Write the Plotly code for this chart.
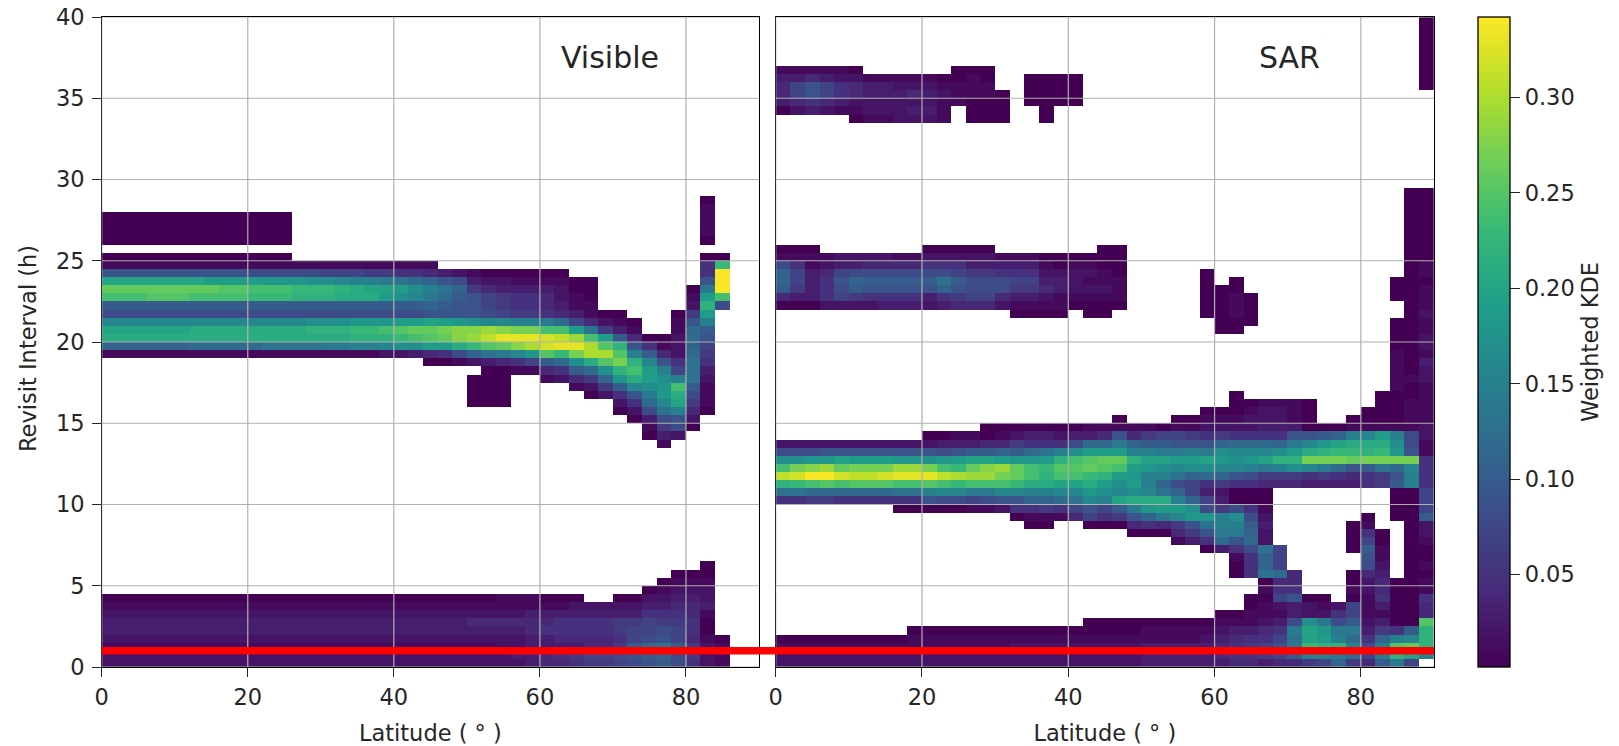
import plotly.graph_objects as go

# Cell values per latitude column (2 deg wide), read bottom-up in 0.5 h rows.
# Each entry: (first_row, codes). Code: 0 = ~0.002, 1-9 = 0.01-0.09, a = 0.10, b = 0.11 ... y = 0.34
LEVEL_CODES = "0123456789abcdefghijklmnopqrstuvwxy"
LATITUDE_CENTRES = [1, 3, 5, 7, 9, 11, 13, 15, 17, 19, 21, 23, 25, 27, 29, 31, 33, 35, 37, 39, 41, 43, 45,
                    47, 49, 51, 53, 55, 57, 59, 61, 63, 65, 67, 69, 71, 73, 75, 77, 79, 81, 83, 85, 87, 89]
X_TICKS = [0, 20, 40, 60, 80]
Y_TICKS = [0, 5, 10, 15, 20, 25, 30, 35, 40]
CB_TICKS = [0.05, 0.10, 0.15, 0.20, 0.25, 0.30]
REFERENCE_LINE_H = 1

visible_columns = [
    [(0, "221233210"), (38, "1blkg8aoqk91"), (50, "0"), (52, "0000")],
    [(0, "221233210"), (38, "1blkg8aoqk91"), (50, "0"), (52, "0000")],
    [(0, "221233210"), (38, "1blkg8aoqk91"), (50, "0"), (52, "0000")],
    [(0, "221233210"), (38, "1blkg8apqk91"), (50, "0"), (52, "0000")],
    [(0, "221233210"), (38, "1blkg8apqk91"), (50, "0"), (52, "0000")],
    [(0, "221233210"), (38, "1blkg8apqk91"), (50, "0"), (52, "0000")],
    [(0, "221233210"), (38, "1cllg8aoqk91"), (50, "0"), (52, "0000")],
    [(0, "221233210"), (38, "1cllg8aoqj91"), (50, "0"), (52, "0000")],
    [(0, "221233210"), (38, "1cllg8aopj91"), (50, "0"), (52, "0000")],
    [(0, "221233210"), (38, "1cllg8aopj91"), (50, "0"), (52, "0000")],
    [(0, "221233210"), (38, "1cllg8anoj81"), (50, "0"), (52, "0000")],
    [(0, "221233210"), (38, "1dllg8anoi81"), (50, "0"), (52, "0000")],
    [(0, "221233210"), (38, "1dllg8anoi81"), (50, "0"), (52, "0000")],
    [(0, "221233210"), (38, "1dllg8amni81")],
    [(0, "221233210"), (38, "1dlmh8amnh81")],
    [(0, "221233210"), (38, "1elmh8amnh71")],
    [(0, "221233210"), (38, "1elmh8almg71")],
    [(0, "221233210"), (38, "1fmni8allf71")],
    [(0, "221233210"), (38, "1fmni8alkf61")],
    [(0, "221233210"), (38, "2gmoi8ajke61")],
    [(0, "221233210"), (38, "2hnpj8ahjd51")],
    [(0, "221233210"), (38, "3hoqj8aghc51")],
    [(0, "221233210"), (37, "04jpqk9befb41")],
    [(0, "221233210"), (37, "05jqrj9acd93")],
    [(0, "221233210"), (37, "18lssi99ab82")],
    [(0, "221234210"), (32, "0000"), (37, "2bntsh999631")],
    [(0, "221234210"), (32, "00000"), (37, "3dpvtg877420")],
    [(0, "222234211"), (32, "00000"), (37, "4eqxsg766320")],
    [(0, "232234211"), (36, "15gsxrf655310")],
    [(0, "333344311"), (36, "17iuxrf655310")],
    [(0, "443354310"), (35, "14apwwoe544310")],
    [(0, "453455310"), (35, "25cnxvoc432210")],
    [(0, "563455320"), (34, "14ahrxtj731100")],
    [(0, "67445532"), (33, "026cluuod411000")],
    [(0, "67445532"), (33, "26bhpupj620")],
    [(0, "786566320"), (31, "025aimrpma310")],
    [(0, "89a776320"), (30, "0259glomf9410")],
    [(0, "9ac8775320"), (28, "0138cehjjga50")],
    [(0, "abd98653210"), (27, "1368dgiihf9410")],
    [(0, "88a776543210"), (28, "289fklof75222110")],
    [(0, "566455443210"), (29, "02468adddcbcc96210")],
    [(0, "2221001322100"), (31, "0111235679afjmje9550"), (52, "011110")],
    [(0, "1110"), (44, "8oyyyn0")],
    [],
    [],
]

sar_columns = [
    [(0, "2210"), (20, "5dmvoh82"), (44, "04abb810"), (68, "034431")],
    [(0, "2210"), (20, "5dnwrh82"), (44, "03677510"), (68, "247731")],
    [(0, "2210"), (20, "6coysi82"), (44, "03333110"), (68, "359941")],
    [(0, "2210"), (20, "6cpyti92"), (44, "2555421"), (68, "247731")],
    [(0, "2210"), (20, "5cowqk92"), (44, "2789732"), (68, "135521")],
    [(0, "2210"), (20, "5cpvrj92"), (44, "26ab832"), (67, "0124420")],
    [(0, "2210"), (20, "5cpvrj92"), (44, "259a842"), (67, "122331")],
    [(0, "2210"), (20, "5cpwrj92"), (44, "359a842"), (67, "122331")],
    [(0, "2210"), (19, "05doxti92"), (44, "359a841"), (67, "222321")],
    [(0, "22110"), (19, "05doxti92"), (44, "359a841"), (67, "232421")],
    [(0, "22110"), (19, "09fpxrh920"), (44, "239a8520"), (67, "232321")],
    [(0, "22110"), (19, "08govoi830"), (44, "35bd8520"), (67, "111210")],
    [(0, "22110"), (19, "08gnunj931"), (44, "469a7520"), (69, "11100")],
    [(0, "22110"), (19, "17eotqka31"), (44, "47886320"), (67, "0001110")],
    [(0, "22110"), (19, "18eotska400"), (44, "47886320"), (67, "0001100")],
    [(0, "22110"), (19, "29gortjb410"), (44, "2488531"), (67, "0000")],
    [(0, "22210"), (18, "059gnqqia620"), (43, "01367531")],
    [(0, "22210"), (17, "015bflooic530"), (43, "01367531"), (69, "0000")],
    [(0, "22210"), (17, "016bflmnjd530"), (43, "01243210"), (67, "000000")],
    [(0, "22210"), (18, "15cgkopmf520"), (43, "01133200"), (69, "0000")],
    [(0, "22210"), (18, "47dgkopoh830"), (44, "0122210"), (69, "0000")],
    [(0, "222100"), (17, "079gilnqpjc31"), (43, "00121210")],
    [(0, "222100"), (17, "057fhjmpqjc41"), (43, "001211000")],
    [(0, "222100"), (17, "06akghjoqje910"), (44, "01110000")],
    [(0, "222100"), (16, "049elhjijmfb41")],
    [(0, "333110"), (16, "05bilgffikfa61")],
    [(0, "333110"), (16, "04ejldbfhkea70")],
    [(0, "333110"), (15, "146gjfb8dgje9710")],
    [(0, "333110"), (15, "369ihb77bhjf9610")],
    [(0, "333210"), (14, "059di8735chke95210"), (43, "000000")],
    [(0, "3443210"), (14, "3ceff6326bgihb6210"), (41, "000000")],
    [(0, "4554310"), (11, "00159efh80059ghgc521000"), (41, "0011100")],
    [(0, "456531100"), (11, "5558cba850058figc52210"), (42, "0000")],
    [(0, "36754211010dbbd223210046ekgc53221")],
    [(0, "47975312754c777"), (22, "46fmhb53221")],
    [(0, "4aede8339544"), (22, "46hmje93111")],
    [(0, "6fnkkh220"), (22, "35grlg90000")],
    [(0, "7fmjie210"), (22, "36ermia0")],
    [(0, "bemfe852"), (22, "35crnkb0")],
    [(0, "6cfcea770100"), (14, "0000"), (22, "349qnlf10")],
    [(0, "47853211122489a7510"), (22, "55armlg100")],
    [(0, "aefb6313544321100"), (22, "66drnlj10000")],
    [(0, "empf5000000"), (18, "0000a9crihf10000111110000"), (45, "000")],
    [(0, "7kqga00000000000000000ffgr988111100100000000000000000000000")],
    [(1, "fmmmp445110100122a7775555112211111223122112111011000000000"), (71, "000000000")],
]


def decode(code):
    index = LEVEL_CODES.index(code)
    return 0.002 if index == 0 else index * 0.01


def to_rows(columns):
    rows = [[None] * len(columns) for _ in range(80)]
    for j, segments in enumerate(columns):
        for start, codes in segments:
            for k, code in enumerate(codes):
                rows[start + k][j] = decode(code)
    return rows


revisit_centres = [0.25 + 0.5 * i for i in range(80)]
W, H = 1619, 746
dom1 = [101.7 / W, 759.0 / W]
dom2 = [775.7 / W, 1434.0 / W]
domy = [(H - 667.0) / H, (H - 17.0) / H]
FONT = "DejaVu Sans"
TEXT = "#262626"
FS = 22.5

fig = go.Figure()
fig.add_trace(go.Heatmap(x=LATITUDE_CENTRES, y=revisit_centres, z=to_rows(visible_columns),
                         coloraxis="coloraxis", xaxis="x", yaxis="y", hoverongaps=False))
fig.add_trace(go.Heatmap(x=LATITUDE_CENTRES, y=revisit_centres, z=to_rows(sar_columns),
                         coloraxis="coloraxis", xaxis="x2", yaxis="y2", hoverongaps=False))

axis_common = dict(range=[0, 90], tickvals=X_TICKS, ticks="outside", ticklen=8.5, tickwidth=1.3, tickcolor="#262626",
                   showline=True, linecolor="black", linewidth=1.3, mirror=True, showgrid=False, zeroline=False,
                   ticklabelstandoff=1,
                   tickfont=dict(family=FONT, size=FS, color=TEXT),
                   title=dict(text="Latitude ( ° )", font=dict(family=FONT, size=FS, color=TEXT), standoff=16))
fig.update_layout(
    width=W, height=H, autosize=False,
    margin=dict(l=0, r=0, t=0, b=0, autoexpand=False),
    paper_bgcolor="white", plot_bgcolor="white", showlegend=False,
    xaxis=dict(domain=dom1, anchor="y", **axis_common),
    xaxis2=dict(domain=dom2, anchor="y2", **axis_common),
    yaxis=dict(domain=domy, anchor="x", range=[0, 40], tickvals=Y_TICKS, ticks="outside", ticklen=8.5, tickwidth=1.3,
               tickcolor="#262626", showline=True, linecolor="black", linewidth=1.3, mirror=True,
               ticklabelstandoff=3,
               showgrid=False, zeroline=False, tickfont=dict(family=FONT, size=FS, color=TEXT)),
    yaxis2=dict(domain=domy, anchor="x2", range=[0, 40], tickvals=Y_TICKS, ticks="", showticklabels=False,
                showline=True, linecolor="black", linewidth=1.3, mirror=True, showgrid=False, zeroline=False),
    coloraxis=dict(
        colorscale="Viridis", cmin=0.0016, cmax=0.342,
        colorbar=dict(
            thickness=32, thicknessmode="pixels", len=650 / H, lenmode="fraction",
            x=1478 / W, xanchor="left", xpad=0, y=domy[1], yanchor="top", ypad=0,
            tickvals=CB_TICKS, tickformat=".2f", ticks="outside", ticklen=10, tickwidth=1.3, tickcolor="#262626",
            ticksuffix="\u00a0",
            outlinecolor="black", outlinewidth=1.3,
            tickfont=dict(family=FONT, size=FS, color=TEXT),
            title=dict(text="Weighted KDE", side="right", font=dict(family=FONT, size=FS, color=TEXT)),
        ),
    ),
    annotations=[
        dict(text="Visible", xref="x", yref="y", x=69.6, y=37.5, showarrow=False,
             font=dict(family=FONT, size=30, color=TEXT)),
        dict(text="SAR", xref="x2", yref="y2", x=70.2, y=37.5, showarrow=False,
             font=dict(family=FONT, size=30, color=TEXT)),
        dict(text="Revisit Interval (h)", xref="paper", yref="paper", x=28 / W, y=(H - 349) / H, textangle=-90,
             xanchor="center", yanchor="middle", showarrow=False, font=dict(family=FONT, size=FS, color=TEXT)),
    ],
)

GRID = dict(color="#b0b0b0", width=1.2)
for xa, ya in (("x", "y"), ("x2", "y2")):
    for t in X_TICKS:
        fig.add_shape(type="line", xref=xa, yref=f"{ya} domain", x0=t, x1=t, y0=0, y1=1, line=GRID, layer="above")
    for t in Y_TICKS:
        fig.add_shape(type="line", xref=f"{xa} domain", yref=ya, x0=0, x1=1, y0=t, y1=t, line=GRID, layer="above")
fig.add_shape(type="line", xref="paper", yref="y", x0=dom1[0], x1=dom2[1], y0=REFERENCE_LINE_H, y1=REFERENCE_LINE_H,
              line=dict(color="#ff0000", width=7.5), layer="above")

fig.write_html("out.html", config={"displayModeBar": False},
               post_script="document.body.style.margin='0';document.documentElement.style.overflow='hidden';")
